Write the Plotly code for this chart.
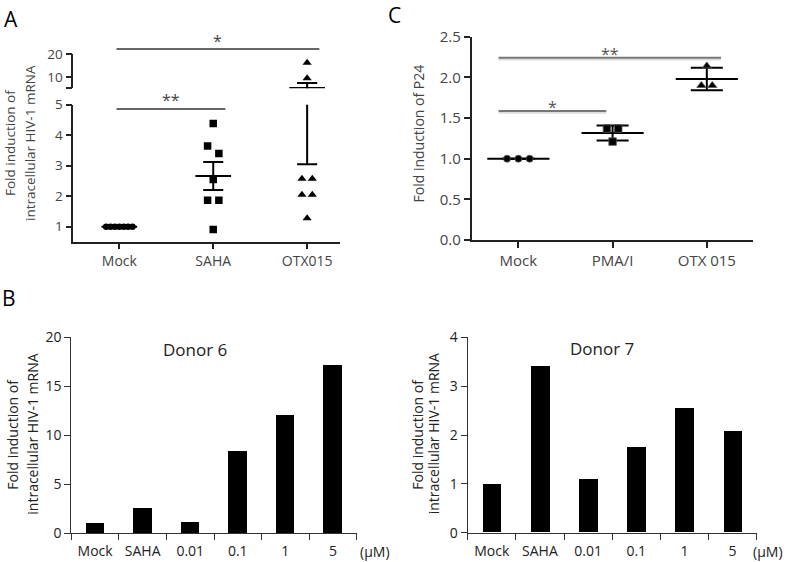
import numpy as np
import plotly.graph_objects as go

W, H = 787, 562

# ---------------- data ----------------
# Panel A (intracellular HIV-1 mRNA, fold induction)
a_groups = ["Mock", "SAHA", "OTX015"]
a_mock = [1.0, 1.0, 1.0, 1.0, 1.0, 1.0, 1.0]
a_saha = [4.38, 3.65, 3.40, 2.55, 1.87, 1.87, 0.91]
a_otx = [16.3, 9.4, 2.57, 2.57, 2.05, 2.05, 1.28]

# Panel C (P24, fold induction)
c_groups = ["Mock", "PMA/I", "OTX 015"]
c_mock = [1.0, 1.0, 1.0]
c_pma = [1.37, 1.37, 1.21]
c_otx = [2.14, 1.90, 1.90]

# Panel B (bars)
b_cats = ["Mock", "SAHA", "0.01", "0.1", "1", "5"]
donor6 = [1.0, 2.55, 1.1, 8.4, 12.0, 17.1]
donor7 = [1.0, 3.41, 1.1, 1.74, 2.54, 2.07]

# significance brackets: (from group, to group, level, label, axis)
a_sig = [(0, 2, 22.3, "*", "y2"), (0, 1, 4.86, "**", "y")]
c_sig = [(0, 2, 2.24, "**"), (0, 1, 1.586, "*")]

# ---------------- layout helpers ----------------
FONT = "Open Sans"
def px_x(p):
    return p / W
def px_y(p):
    return 1 - p / H

A_XR = [-0.49, 2.35]
A_YR = [0.515, 5]
A_Y2R = [5, 20]
C_XR = [-0.495, 2.49]

fig = go.Figure()

a_off = {
    0: [-0.14, -0.093, -0.047, 0, 0.047, 0.093, 0.14],
    1: [0, -0.06, 0.06, 0, -0.06, 0.06, 0],
    2: [0, 0, -0.055, 0.055, -0.055, 0.055, 0],
}
c_off = {
    0: [-0.12, 0, 0.12],
    1: [-0.06, 0.06, 0],
    2: [0, -0.058, 0.058],
}


def err_trace(i, vals, kind, half, cap, xa, ya, width=2):
    arr = np.array(vals, dtype=float)
    m = arr.mean()
    e = arr.std(ddof=1)
    if kind == "sem":
        e = e / np.sqrt(len(arr))
    xs = [i - half, i + half, None, i, i, None, i - cap, i + cap, None, i - cap, i + cap]
    ys = [m, m, None, m - e, m + e, None, m + e, m + e, None, m - e, m - e]
    return go.Scatter(x=xs, y=ys, mode="lines", line=dict(color="black", width=width),
                      xaxis=xa, yaxis=ya, showlegend=False, hoverinfo="skip")


# ---------- Panel A (broken axis: y lower, y2 upper) ----------
a_sets = [(a_mock, "circle", 6.5), (a_saha, "square", 7.5), (a_otx, "triangle-up", 8)]
for i, (vals, sym, sz) in enumerate(a_sets):
    fig.add_trace(go.Scatter(
        x=[i + o for o in a_off[i]], y=vals, mode="markers",
        marker=dict(symbol=sym, size=sz, color="black", line=dict(width=0)),
        xaxis="x", yaxis="y", showlegend=False))
    fig.add_trace(err_trace(i, vals, "sem", 0.19, 0.107, "x", "y"))
    if max(vals) > A_Y2R[0]:
        fig.add_trace(go.Scatter(
            x=[i + o for o in a_off[i]], y=vals, mode="markers",
            marker=dict(symbol=sym, size=sz, color="black", line=dict(width=0)),
            xaxis="x", yaxis="y2", showlegend=False))
        fig.add_trace(err_trace(i, vals, "sem", 0.19, 0.107, "x", "y2"))

# ---------- Panel C ----------
c_sets = [(c_mock, "circle", 7), (c_pma, "square", 7.5), (c_otx, "triangle-up", 8)]
for i, (vals, sym, sz) in enumerate(c_sets):
    fig.add_trace(err_trace(i, vals, "sd", 0.33, 0.17, "x3", "y3"))
    fig.add_trace(go.Scatter(
        x=[i + o for o in c_off[i]], y=vals, mode="markers",
        marker=dict(symbol=sym, size=sz, color="black", line=dict(width=0.8, color="#555")),
        xaxis="x3", yaxis="y3", showlegend=False))

# ---------- Panel B ----------
fig.add_trace(go.Bar(x=b_cats, y=donor6, width=0.39, marker=dict(color="black", line=dict(width=0)),
                     xaxis="x4", yaxis="y4", showlegend=False))
fig.add_trace(go.Bar(x=b_cats, y=donor7, width=0.39, marker=dict(color="black", line=dict(width=0)),
                     xaxis="x5", yaxis="y5", showlegend=False))

# ---------------- axes ----------------
ac_line = dict(showline=True, linecolor="#222", linewidth=1.6, ticks="outside",
               tickcolor="#222", tickwidth=1.6, ticklen=6, showgrid=False, zeroline=False,
               automargin=False)
b_line = dict(showline=True, linecolor="#333", linewidth=1.2, ticks="outside",
              tickcolor="#333", tickwidth=1.2, ticklen=6, showgrid=False, zeroline=False,
              automargin=False)

fig.update_layout(
    width=W, height=H, margin=dict(l=0, r=0, t=0, b=0, pad=0, autoexpand=False),
    autosize=False,
    paper_bgcolor="white", plot_bgcolor="rgba(0,0,0,0)",
    font=dict(family=FONT, color="#333"),
    bargap=0,
    xaxis=dict(domain=[px_x(73.3), px_x(340)], range=A_XR, anchor="y",
               tickvals=[0, 1, 2], ticktext=a_groups,
               tickfont=dict(size=14, color="#444"), **ac_line),
    yaxis=dict(domain=[px_y(241.5), px_y(104.7)], range=A_YR, anchor="x",
               tickvals=[1, 2, 3, 4, 5], tickfont=dict(size=13.5, color="#444"), **ac_line),
    yaxis2=dict(domain=[px_y(88.3), px_y(54.3)], range=A_Y2R, anchor="x",
                tickvals=[5, 10, 20], ticktext=["", "10", "20"],
                tickfont=dict(size=13.5, color="#444"), **ac_line),
    xaxis3=dict(domain=[px_x(471.7), px_x(753)], range=C_XR, anchor="y3",
                tickvals=[0, 1, 2], ticktext=c_groups,
                tickfont=dict(size=15, color="#444"), **ac_line),
    yaxis3=dict(domain=[px_y(240), px_y(36.7)], range=[0, 2.5], anchor="x3",
                tickvals=[0, 0.5, 1, 1.5, 2, 2.5], tickformat=".1f",
                tickfont=dict(size=15, color="#444"), **ac_line),
    xaxis4=dict(domain=[px_x(71.3), px_x(356.7)], type="category", range=[-0.5, 5.5],
                anchor="y4", tickson="boundaries", ticklabelstandoff=5,
                tickfont=dict(size=14, color="#222"), **b_line),
    yaxis4=dict(domain=[px_y(533.3), px_y(337.3)], range=[0, 20], dtick=5, anchor="x4",
                tickfont=dict(size=14, color="#222"), **b_line),
    xaxis5=dict(domain=[px_x(467.7), px_x(756.7)], type="category", range=[-0.5, 5.5],
                anchor="y5", tickson="boundaries", ticklabelstandoff=5,
                tickfont=dict(size=14, color="#222"), **b_line),
    yaxis5=dict(domain=[px_y(532.7), px_y(337.3)], range=[0, 4], dtick=1, anchor="x5",
                tickfont=dict(size=14, color="#222"), **b_line),
)

shapes = []
annotations = []


def dom(v, r):
    return (v - r[0]) / (r[1] - r[0])

for g0, g1, lvl, lab, ya in a_sig:
    yr = A_Y2R if ya == "y2" else A_YR
    yd = dom(lvl, yr)
    x0, x1 = g0 - 0.03, g1 + 0.13
    shapes.append(dict(type="line", xref="x domain", yref=ya + " domain",
                       x0=dom(x0, A_XR), x1=dom(x1, A_XR), y0=yd, y1=yd,
                       line=dict(color="#333", width=1.5)))
    annotations.append(dict(text=lab, xref="x domain", yref=ya + " domain",
                            x=dom((x0 + x1) / 2, A_XR), y=yd,
                            yanchor="middle", yshift=8.5, showarrow=False,
                            font=dict(size=16, color="#444")))

for g0, g1, lvl, lab in c_sig:
    x0, x1 = g0 - 0.21, g1 + (0.15 if g1 == 2 else -0.067)
    shapes.append(dict(type="line", xref="x3", yref="y3", x0=x0, x1=x1,
                       y0=lvl - 0.02, y1=lvl - 0.02, line=dict(color="#ddd", width=2)))
    shapes.append(dict(type="line", xref="x3", yref="y3", x0=x0, x1=x1, y0=lvl, y1=lvl,
                       line=dict(color="#777", width=2)))
    annotations.append(dict(text=lab, xref="x3", yref="y3", x=(x0 + x1) / 2, y=lvl,
                            yanchor="middle", yshift=4, showarrow=False,
                            font=dict(size=16, color="#555")))

for lab, x, y in [("A", 11, 18.5), ("B", 9, 297.5), ("C", 395, 14.8)]:
    annotations.append(dict(text=lab, xref="paper", yref="paper", x=px_x(x), y=px_y(y),
                            xanchor="center", yanchor="middle", showarrow=False, borderpad=0,
                            font=dict(size=21, color="black", family=FONT)))

ytitles = [
    ("Fold induction of", 10, 143, 13.5, "#444"),
    ("intracellular HIV-1 mRNA", 30, 143, 13.5, "#444"),
    ("Fold induction of P24", 417.5, 134, 14, "#444"),
    ("Fold induction of", 11.7, 434, 14, "#222"),
    ("intracellular HIV-1 mRNA", 31.7, 434, 14, "#222"),
    ("Fold induction of", 416.7, 434, 14, "#222"),
    ("intracellular HIV-1 mRNA", 433.3, 434, 14, "#222"),
]
for txt, x, y, sz, col in ytitles:
    annotations.append(dict(text=txt, xref="paper", yref="paper", x=px_x(x), y=px_y(y),
                            xanchor="center", yanchor="middle", textangle=-90, showarrow=False,
                            font=dict(size=sz, color=col)))

for txt, x, y, sz in [("Donor 6", 195, 349.3, 17), ("Donor 7", 601.7, 348.3, 17),
                      ("(µM)", 375, 551.5, 14), ("(µM)", 767.5, 551.5, 14)]:
    annotations.append(dict(text=txt, xref="paper", yref="paper", x=px_x(x), y=px_y(y),
                            xanchor="center", yanchor="middle", showarrow=False,
                            font=dict(size=sz, color="#222")))

fig.update_layout(shapes=shapes, annotations=annotations)
fig.write_html("out.html", config={"displayModeBar": False},
               post_script="document.body.style.margin='0';document.body.style.overflow='hidden';")
